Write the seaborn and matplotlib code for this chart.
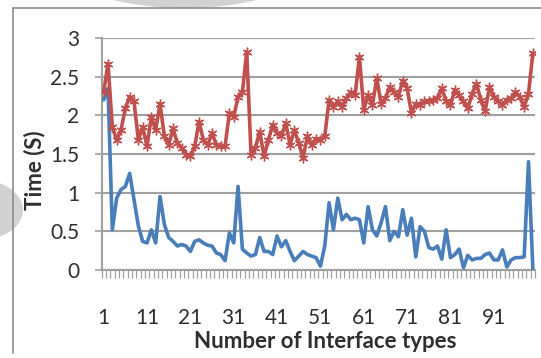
import numpy as np
import pandas as pd
import matplotlib
matplotlib.use("Agg")
import matplotlib.pyplot as plt
from matplotlib.patches import Circle, Ellipse
from matplotlib.lines import Line2D
from matplotlib.ticker import FixedLocator
import seaborn as sns

# Interface type index (1..100)
interface_types = list(range(1, 101))

# Upper series (red, star markers)
series_red = [
    2.30, 2.67, 1.85, 1.68, 1.81, 2.09, 2.24, 2.18, 1.68, 1.85,
    1.60, 1.98, 1.81, 2.15, 1.73, 1.62, 1.83, 1.64, 1.58, 1.49,
    1.47, 1.60, 1.92, 1.68, 1.62, 1.77, 1.62, 1.60, 1.60, 2.03,
    1.98, 2.24, 2.30, 2.82, 1.49, 1.58, 1.79, 1.47, 1.68, 1.88,
    1.77, 1.73, 1.90, 1.62, 1.81, 1.64, 1.45, 1.73, 1.62, 1.70,
    1.68, 1.73, 2.20, 2.11, 2.18, 2.11, 2.22, 2.30, 2.26, 2.76,
    2.07, 2.26, 2.13, 2.48, 2.15, 2.22, 2.37, 2.30, 2.24, 2.45,
    2.35, 2.03, 2.15, 2.13, 2.18, 2.18, 2.20, 2.22, 2.35, 2.18,
    2.13, 2.33, 2.26, 2.18, 2.09, 2.28, 2.41, 2.20, 2.05, 2.37,
    2.24, 2.18, 2.13, 2.20, 2.22, 2.30, 2.24, 2.11, 2.28, 2.80,
]

# Lower series (blue line)
series_blue = [
    2.20, 2.35, 0.52, 0.93, 1.04, 1.08, 1.25, 0.91, 0.57, 0.37,
    0.35, 0.52, 0.35, 0.95, 0.59, 0.42, 0.37, 0.31, 0.33, 0.31,
    0.24, 0.37, 0.39, 0.35, 0.32, 0.31, 0.22, 0.20, 0.12, 0.48,
    0.35, 1.08, 0.27, 0.22, 0.18, 0.20, 0.42, 0.24, 0.24, 0.20,
    0.44, 0.30, 0.38, 0.24, 0.12, 0.18, 0.24, 0.20, 0.18, 0.16,
    0.05, 0.31, 0.87, 0.52, 0.93, 0.65, 0.72, 0.65, 0.67, 0.65,
    0.35, 0.82, 0.52, 0.44, 0.61, 0.82, 0.38, 0.50, 0.43, 0.78,
    0.45, 0.67, 0.17, 0.56, 0.50, 0.29, 0.27, 0.31, 0.14, 0.52,
    0.16, 0.20, 0.27, 0.03, 0.19, 0.13, 0.15, 0.15, 0.20, 0.22,
    0.13, 0.13, 0.26, 0.04, 0.13, 0.16, 0.16, 0.17, 1.40, 0.02,
]

y_ticks = [0, 0.5, 1, 1.5, 2, 2.5, 3]
y_tick_labels = ["0", "0.5", "1", "1.5", "2", "2.5", "3"]
x_tick_values = [1, 11, 21, 31, 41, 51, 61, 71, 81, 91]
x_tick_labels = [str(v) for v in x_tick_values]

RED = "#C0504D"
BLUE = "#4A7EBB"
GRID = "#A0A0A0"
TEXT = "#2E2E2E"

sns.set_theme(style="white")
plt.rcParams["font.family"] = ["Lato", "DejaVu Sans"]

W, H = 541, 358
fig = plt.figure(figsize=(W / 100, H / 100), dpi=100)
fig.patch.set_facecolor("white")

# decorative grey shapes behind the chart frame
fig.patches.append(Circle((-24 / W, 1 - 210 / H), 47 / W, transform=fig.transFigure,
                          facecolor="#D2D2D2", edgecolor="none", zorder=0))
fig.patches.append(Ellipse((185 / W, 1 - (-22) / H), 210 / W, 60 / H, transform=fig.transFigure,
                           facecolor="#D2D2D2", edgecolor="none", zorder=0))

# chart frame
fig.lines.append(Line2D([13 / W, 13 / W], [1 - 8 / H, 1 - 353 / H], transform=fig.transFigure,
                        color="#8C8C8C", lw=1.2))
fig.lines.append(Line2D([13 / W, 1.0], [1 - 8 / H, 1 - 8 / H], transform=fig.transFigure,
                        color="#8C8C8C", lw=1.2))

left, right, top, bottom = 101.5, 535, 38, 270
ax = fig.add_axes([left / W, 1 - bottom / H, (right - left) / W, (bottom - top) / H])
ax.set_facecolor("none")

df = pd.DataFrame({"idx": interface_types, "red": series_red, "blue": series_blue})

sns.lineplot(data=df, x="idx", y="blue", ax=ax, color=BLUE, lw=2.6, zorder=3)
sns.lineplot(data=df, x="idx", y="red", ax=ax, color=RED, lw=2.6, zorder=4,
             marker=(6, 2, 0), markersize=7, markeredgecolor=RED, markeredgewidth=1.0)

ax.set_xlim(0.5, 100.5)
ax.set_ylim(0, 3)

ax.set_yticks(y_ticks)
ax.set_yticklabels(y_tick_labels)
ax.set_xticks(x_tick_values)
ax.set_xticklabels(x_tick_labels)
ax.xaxis.set_minor_locator(FixedLocator(np.arange(0.5, 101, 1)))

ax.grid(axis="y", color=GRID, lw=1.5)
ax.set_axisbelow(True)
for s in ["top", "right"]:
    ax.spines[s].set_visible(False)
for s in ["left", "bottom"]:
    ax.spines[s].set_color(GRID)
    ax.spines[s].set_linewidth(1.5)

ax.tick_params(axis="y", which="major", length=5, width=1.2, color=GRID, direction="out",
               pad=11, labelsize=15, labelcolor=TEXT, left=True)
ax.tick_params(axis="x", which="major", length=0, pad=27, labelsize=15, labelcolor=TEXT)
ax.tick_params(axis="x", which="minor", length=6, width=0.9, color=GRID, direction="out", bottom=True)

ax.set_xlabel("Number of Interface types", fontsize=16, fontweight="bold", color=TEXT)
ax.set_ylabel("Time (S)", fontsize=16, fontweight="bold", color=TEXT)
ax.xaxis.set_label_coords((325 - left) / (right - left), (bottom - 331) / (bottom - top))
ax.yaxis.set_label_coords((45 - left) / (right - left), 0.43)

fig.savefig("out.png", dpi=100, facecolor="white")
